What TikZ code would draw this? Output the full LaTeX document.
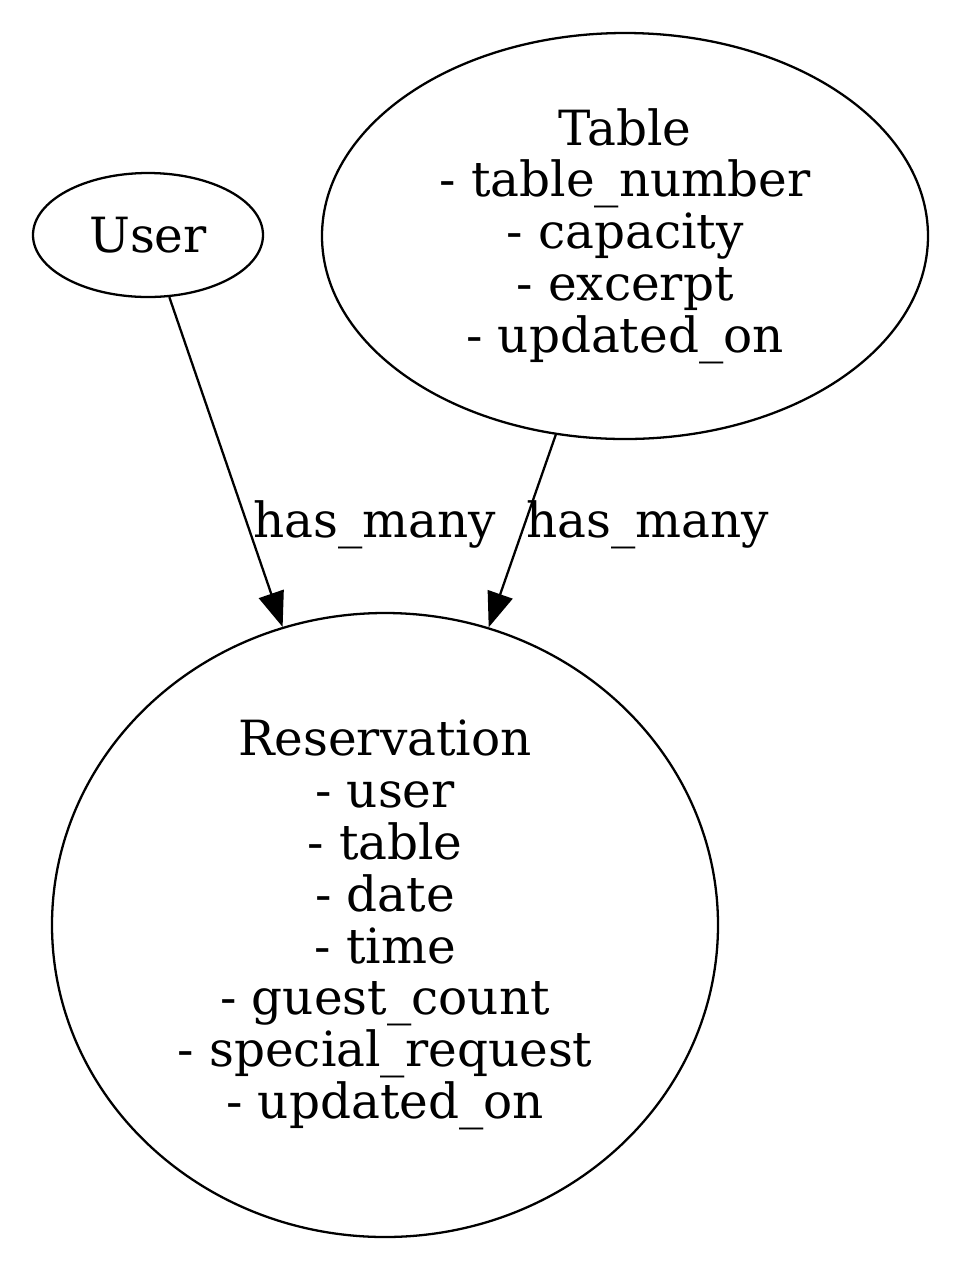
\documentclass[tikz,border=0pt]{standalone}
\usepackage{fontspec}
\setmainfont{DejaVu Serif}
\usetikzlibrary{shapes,arrows.meta,positioning}
\tikzstyle{entity}=[draw,ellipse,inner sep=0pt,line width=0.65pt,align=center,
  font=\fontsize{13.8pt}{14.75pt}\selectfont]
\tikzstyle{rel}=[-{Triangle[length=3.5mm,width=2.6mm]}, line width=0.65pt]
\tikzstyle{tag}=[font=\fontsize{13.8pt}{14.75pt}\selectfont]

\begin{document}
\begin{tikzpicture}
  \useasboundingbox (0,0) rectangle (9.62,-12.72);

  \node[entity, minimum width=2.3cm, minimum height=1.24cm] (user) at (1.48,-2.35) {User};
  \node[entity, minimum width=6.06cm, minimum height=4.06cm] (table) at (6.25,-2.36)
    {Table\\- table\_number\\- capacity\\- excerpt\\- updated\_on};
  \node[entity, minimum width=6.66cm, minimum height=6.24cm] (res) at (3.85,-9.25)
    {Reservation\\- user\\- table\\- date\\- time\\- guest\_count\\- special\_request\\- updated\_on};

  \draw[rel] (user) -- (res);
  \draw[rel] (table) -- (res);

  \node[tag] (l1) at (3.75,-5.25) {has\_many};
  \node[tag] (l2) at (6.48,-5.25) {has\_many};
\end{tikzpicture}
\end{document}
